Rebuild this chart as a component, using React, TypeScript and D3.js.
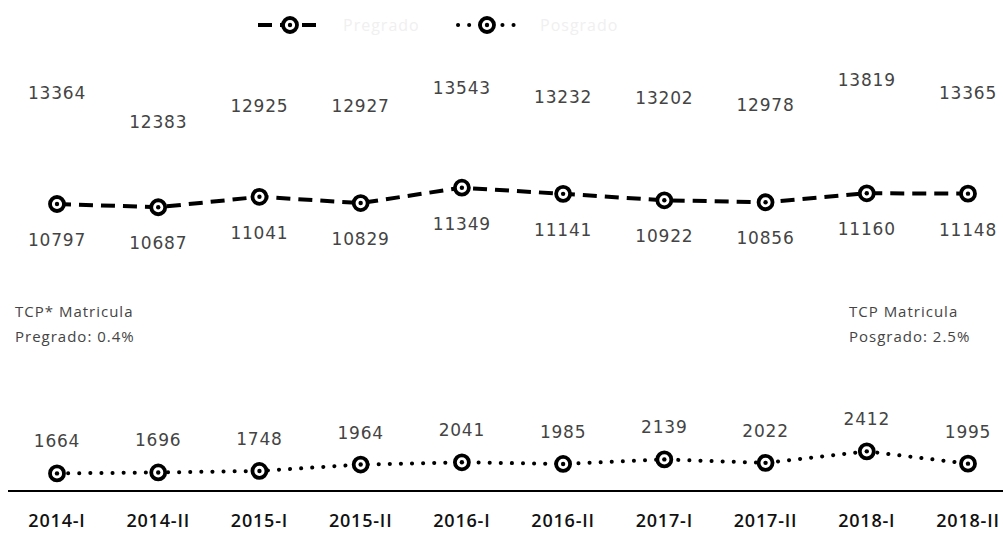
import React from "react";
import * as d3 from "d3";

const categories = ["2014-I", "2014-II", "2015-I", "2015-II", "2016-I", "2016-II", "2017-I", "2017-II", "2018-I", "2018-II"];
const pregrado = [10797, 10687, 11041, 10829, 11349, 11141, 10922, 10856, 11160, 11148];
const posgrado = [1664, 1696, 1748, 1964, 2041, 1985, 2139, 2022, 2412, 1995];
const total = [13364, 12383, 12925, 12927, 13543, 13232, 13202, 12978, 13819, 13365];
const legendLabels = ["Pregrado", "Posgrado"];
const noteLeft = ["TCP* Matricula", "Pregrado: 0.4%"];
const noteRight = ["TCP Matricula", "Posgrado: 2.5%"];

const W = 1003;
const H = 535;

export default function App() {
  const x = d3.scalePoint<string>().domain(categories).range([57, 968]);
  const y = d3.scaleLinear().domain([1000, 16000]).range([493, 50.5]);
  const line = d3
    .line<number>()
    .x((_, i) => x(categories[i]) as number)
    .y((d) => y(d));

  const numFont = { fontFamily: "DejaVu Sans", fontSize: 17, fill: "#444", letterSpacing: 0.8 } as const;

  const marker = (cx: number, cy: number, key: string) => (
    <g key={key}>
      <circle cx={cx} cy={cy} r={7} fill="#fff" stroke="#000" strokeWidth={3.8} />
      <circle cx={cx} cy={cy} r={2.2} fill="#000" />
    </g>
  );

  return (
    <svg width={W} height={H} style={{ position: "absolute", left: 0, top: 0, background: "#fff" }}>
      {/* legend */}
      <g>
        <line x1={258} x2={323} y1={25} y2={25} stroke="#000" strokeWidth={4} strokeDasharray="14 8" />
        {marker(290, 25, "lg1")}
        <text x={343} y={31} fontFamily="Open Sans" fontSize={16} fill="#f0f0f0" letterSpacing={1}>
          {legendLabels[0]}
        </text>
        <line x1={458} x2={518} y1={25} y2={25} stroke="#000" strokeWidth={4} strokeLinecap="round" strokeDasharray="0.1 11" />
        {marker(487, 25, "lg2")}
        <text x={540} y={31} fontFamily="Open Sans" fontSize={16} fill="#f0f0f0" letterSpacing={1}>
          {legendLabels[1]}
        </text>
      </g>

      {/* axis */}
      <line x1={8} x2={1003} y1={491} y2={491} stroke="#000" strokeWidth={2} />
      {categories.map((c) => (
        <text
          key={c}
          x={x(c)}
          y={527}
          textAnchor="middle"
          fontFamily="Open Sans"
          fontWeight={600}
          fontSize={18}
          letterSpacing={0.8}
          fill="#111"
        >
          {c}
        </text>
      ))}

      {/* total labels */}
      {total.map((v, i) => (
        <text key={"t" + i} x={x(categories[i])} y={y(v) - 29} textAnchor="middle" {...numFont}>
          {v}
        </text>
      ))}

      {/* pregrado */}
      <path d={line(pregrado) || ""} fill="none" stroke="#000" strokeWidth={4} strokeDasharray="14 8" />
      {pregrado.map((v, i) => marker(x(categories[i]) as number, y(v), "pm" + i))}
      {pregrado.map((v, i) => (
        <text key={"pl" + i} x={x(categories[i])} y={y(v) + 42} textAnchor="middle" {...numFont}>
          {v}
        </text>
      ))}

      {/* posgrado */}
      <path
        d={line(posgrado) || ""}
        fill="none"
        stroke="#000"
        strokeWidth={4}
        strokeLinecap="round"
        strokeDasharray="0.1 11"
      />
      {posgrado.map((v, i) => marker(x(categories[i]) as number, y(v), "qm" + i))}
      {posgrado.map((v, i) => (
        <text key={"ql" + i} x={x(categories[i])} y={y(v) - 26} textAnchor="middle" {...numFont}>
          {v}
        </text>
      ))}

      {/* notes */}
      {noteLeft.map((t, i) => (
        <text key={"nl" + i} x={15} y={317 + i * 25} fontFamily="Open Sans" fontSize={15} fill="#444" letterSpacing={1}>
          {t}
        </text>
      ))}
      {noteRight.map((t, i) => (
        <text key={"nr" + i} x={849} y={317 + i * 25} fontFamily="Open Sans" fontSize={15} fill="#444" letterSpacing={1}>
          {t}
        </text>
      ))}
    </svg>
  );
}
